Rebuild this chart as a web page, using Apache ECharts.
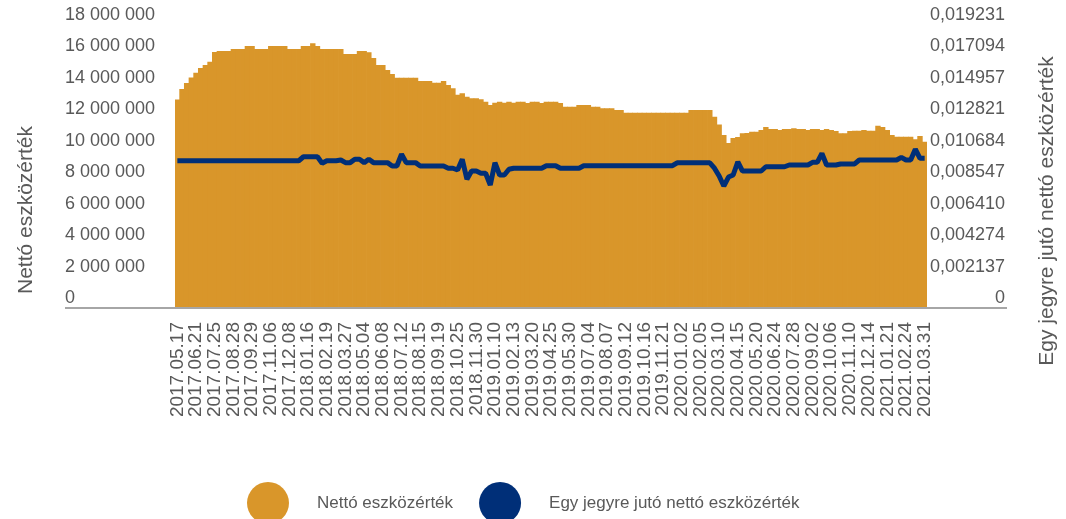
<!DOCTYPE html>
<html>
<head>
<meta charset="utf-8">
<script src="https://cdn.jsdelivr.net/npm/echarts@6/dist/echarts.min.js"></script>
<style>
  html, body { margin: 0; padding: 0; background: #fff; }
  #chart { width: 1066px; height: 519px; }
</style>
</head>
<body>
<div id="chart"></div>
<script>
// tick labels on the date axis (one every 4 samples)
var dateLabels = [
  "2017.05.17", "2017.06.21", "2017.07.25", "2017.08.28", "2017.09.29", "2017.11.06",
  "2017.12.08", "2018.01.16", "2018.02.19", "2018.03.27", "2018.05.04", "2018.06.08",
  "2018.07.12", "2018.08.15", "2018.09.19", "2018.10.25", "2018.11.30", "2019.01.10",
  "2019.02.13", "2019.03.20", "2019.04.25", "2019.05.30", "2019.07.04", "2019.08.07",
  "2019.09.12", "2019.10.16", "2019.11.21", "2020.01.02", "2020.02.05", "2020.03.10",
  "2020.04.15", "2020.05.20", "2020.06.24", "2020.07.28", "2020.09.02", "2020.10.06",
  "2020.11.10", "2020.12.14", "2021.01.21", "2021.02.24", "2021.03.31"
];

// Nettó eszközérték (bars, left axis)
var netAssets = [
  13200000, 13870000, 14250000, 14600000, 14900000, 15200000, 15390000, 15600000, 16220000, 16280000,
  16280000, 16280000, 16410000, 16410000, 16410000, 16600000, 16600000, 16410000, 16410000, 16410000,
  16600000, 16600000, 16600000, 16600000, 16410000, 16410000, 16410000, 16600000, 16600000, 16770000,
  16600000, 16410000, 16410000, 16410000, 16410000, 16410000, 16090000, 16090000, 16090000, 16280000,
  16280000, 16200000, 15840000, 15390000, 15390000, 15070000, 14820000, 14580000, 14580000, 14580000,
  14580000, 14580000, 14370000, 14370000, 14370000, 14270000, 14270000, 14370000, 14120000, 13910000,
  13500000, 13590000, 13380000, 13270000, 13270000, 13210000, 13060000, 12850000, 12990000, 13060000,
  12990000, 13060000, 12990000, 13060000, 13060000, 12970000, 13060000, 13060000, 12970000, 13060000,
  13060000, 13060000, 12970000, 12740000, 12740000, 12740000, 12850000, 12850000, 12850000, 12740000,
  12740000, 12640000, 12640000, 12640000, 12530000, 12530000, 12360000, 12360000, 12360000, 12360000,
  12360000, 12360000, 12360000, 12360000, 12360000, 12360000, 12360000, 12360000, 12360000, 12360000,
  12530000, 12530000, 12530000, 12530000, 12530000, 12100000, 11600000, 10940000, 10430000, 10750000,
  10810000, 11050000, 11070000, 11150000, 11150000, 11260000, 11450000, 11320000, 11320000, 11260000,
  11320000, 11320000, 11370000, 11320000, 11320000, 11260000, 11320000, 11320000, 11260000, 11320000,
  11260000, 11190000, 11050000, 11050000, 11190000, 11210000, 11210000, 11260000, 11210000, 11210000,
  11530000, 11450000, 11260000, 10940000, 10830000, 10830000, 10830000, 10830000, 10670000, 10880000,
  10510000
];

// Egy jegyre jutó nettó eszközérték (line, right axis)
var perUnit = [
  0.00994, 0.00994, 0.00994, 0.00994, 0.00994, 0.00994, 0.00994, 0.00994, 0.00994, 0.00994,
  0.00994, 0.00994, 0.00994, 0.00994, 0.00994, 0.00994, 0.00994, 0.00994, 0.00994, 0.00994,
  0.00994, 0.00994, 0.00994, 0.00994, 0.00994, 0.00994, 0.00994, 0.01021, 0.01021, 0.01021,
  0.01021, 0.00977, 0.00994, 0.00994, 0.00994, 0.00999, 0.00981, 0.00981, 0.01004, 0.01004,
  0.00981, 0.01004, 0.00981, 0.00981, 0.00981, 0.00981, 0.00958, 0.00958, 0.01038, 0.00981,
  0.00981, 0.00981, 0.00958, 0.00958, 0.00958, 0.00958, 0.00958, 0.00958, 0.00943, 0.00943,
  0.00931, 0.01004, 0.00868, 0.00924, 0.00924, 0.00909, 0.00909, 0.00829, 0.00981, 0.00897,
  0.00897, 0.00936, 0.00943, 0.00943, 0.00943, 0.00943, 0.00943, 0.00943, 0.00943, 0.00960,
  0.00960, 0.00960, 0.00943, 0.00943, 0.00943, 0.00943, 0.00943, 0.00960, 0.00960, 0.00960,
  0.00960, 0.00960, 0.00960, 0.00960, 0.00960, 0.00960, 0.00960, 0.00960, 0.00960, 0.00960,
  0.00960, 0.00960, 0.00960, 0.00960, 0.00960, 0.00960, 0.00960, 0.00980, 0.00980, 0.00980,
  0.00980, 0.00980, 0.00980, 0.00980, 0.00980, 0.00943, 0.00890, 0.00822, 0.00883, 0.00897,
  0.00987, 0.00924, 0.00924, 0.00924, 0.00924, 0.00924, 0.00953, 0.00953, 0.00953, 0.00953,
  0.00953, 0.00965, 0.00965, 0.00965, 0.00965, 0.00965, 0.00983, 0.00983, 0.01044, 0.00965,
  0.00965, 0.00965, 0.00972, 0.00972, 0.00972, 0.00972, 0.00999, 0.00999, 0.00999, 0.00999,
  0.00999, 0.00999, 0.00999, 0.00999, 0.00999, 0.01017, 0.00999, 0.00999, 0.01072, 0.01010,
  0.01010
];

var seriesNames = ["Nettó eszközérték", "Egy jegyre jutó nettó eszközérték"];

// one named category per label, three unnamed samples in between
var categories = [];
dateLabels.forEach(function (d, k) {
  categories.push(d);
  if (k < dateLabels.length - 1) categories.push("", "", "");
});

var FONT = "'Liberation Sans', Arial, sans-serif";
var GREY = "#595959";
var ORANGE = "#d9962a";
var NAVY = "#002f78";
var RIGHT_MAX = 0.019231;

function spaced(v) {
  return String(v).replace(/\B(?=(\d{3})+(?!\d))/g, " ");
}

var myChart = echarts.init(document.getElementById("chart"));
myChart.setOption({
  animation: false,
  backgroundColor: "#fff",
  grid: { left: 175, right: 139, top: 24, bottom: 212 },
  legend: {
    data: seriesNames,
    left: 242,
    top: 477,
    icon: "circle",
    itemWidth: 42,
    itemHeight: 42,
    itemGap: 26,
    selectedMode: false,
    textStyle: { color: GREY, fontSize: 17, fontFamily: FONT, padding: [0, 0, 0, 23] }
  },
  xAxis: {
    type: "category",
    data: categories,
    boundaryGap: true,
    axisLine: { show: false },
    axisTick: { show: false },
    axisLabel: {
      interval: 0,
      rotate: 90,
      margin: 15,
      color: GREY,
      fontSize: 19,
      fontFamily: FONT
    }
  },
  yAxis: [
    {
      type: "value",
      min: 0,
      max: 18000000,
      interval: 2000000,
      axisLine: { show: false },
      axisTick: { show: false },
      splitLine: { show: false },
      axisLabel: {
        align: "left",
        verticalAlign: "bottom",
        margin: 110,
        color: GREY,
        fontSize: 18,
        fontFamily: FONT,
        formatter: spaced
      }
    },
    {
      type: "value",
      position: "right",
      min: 0,
      max: RIGHT_MAX,
      interval: RIGHT_MAX / 9,
      axisLine: { show: false },
      axisTick: { show: false },
      splitLine: { show: false },
      axisLabel: {
        align: "right",
        verticalAlign: "bottom",
        margin: 78,
        color: GREY,
        fontSize: 18,
        fontFamily: FONT,
        formatter: function (v) {
          return v === 0 ? "0" : v.toFixed(6).replace(".", ",");
        }
      }
    }
  ],
  graphic: [
    // base line runs under the axis labels too
    { type: "line", shape: { x1: 65, y1: 308, x2: 1007, y2: 308 }, style: { stroke: "#a6a6a6", lineWidth: 2 }, z: 10 },
    {
      type: "text", x: 26, y: 210, rotation: Math.PI / 2,
      style: { text: "Nettó eszközérték", fill: GREY, font: "21px " + FONT, align: "center", verticalAlign: "middle" }
    },
    {
      type: "text", x: 1047, y: 211, rotation: Math.PI / 2,
      style: { text: "Egy jegyre jutó nettó eszközérték", fill: GREY, font: "21px " + FONT, align: "center", verticalAlign: "middle" }
    }
  ],
  series: [
    {
      name: seriesNames[0],
      type: "bar",
      yAxisIndex: 0,
      data: netAssets,
      barWidth: 5.4,
      barCategoryGap: "0%",
      itemStyle: { color: ORANGE, borderWidth: 0 },
      z: 2
    },
    {
      name: seriesNames[1],
      type: "line",
      yAxisIndex: 1,
      data: perUnit,
      showSymbol: false,
      symbol: "none",
      lineStyle: { color: NAVY, width: 5 },
      itemStyle: { color: NAVY },
      z: 3
    }
  ]
});
</script>
</body>
</html>
